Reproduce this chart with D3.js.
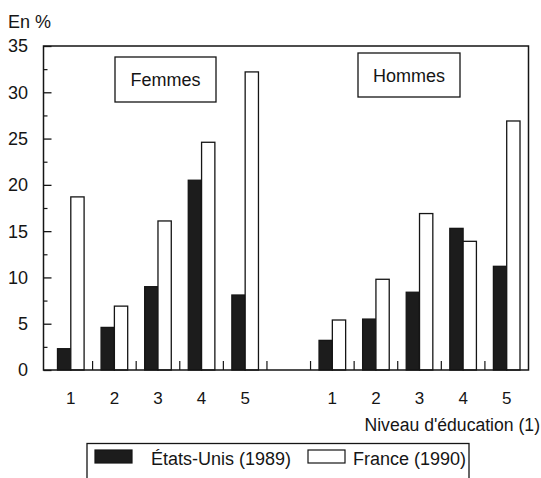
<!DOCTYPE html>
<html>
<head>
<meta charset="utf-8">
<script src="https://cdn.jsdelivr.net/npm/d3@7"></script>
<style>
  html, body { margin: 0; padding: 0; background: #fff; }
  svg { display: block; font-family: "Liberation Sans", Arial, sans-serif; }
</style>
</head>
<body>
<div id="chart"></div>
<script>
const levels = ['1', '2', '3', '4', '5'];
const groups = ['Femmes', 'Hommes'];
const series = ['États-Unis (1989)', 'France (1990)'];

const etatsUnisFemmes = [2.3, 4.6, 9.0, 20.5, 8.1];
const franceFemmes = [18.7, 6.9, 16.1, 24.6, 32.2];
const etatsUnisHommes = [3.2, 5.5, 8.4, 15.3, 11.2];
const franceHommes = [5.4, 9.8, 16.9, 13.9, 26.9];

const yTicks = [0, 5, 10, 15, 20, 25, 30, 35];
const yMinorTicks = [2.5, 7.5, 12.5, 17.5, 22.5, 27.5, 32.5];

const width = 541;
const height = 478;
const ink = '#151515';

const svg = d3.select('#chart').append('svg')
  .attr('width', width)
  .attr('height', height);

// slots: 5 for Femmes, one empty, 5 for Hommes
const slots = [...levels.map(l => 'F' + l), 'gap', ...levels.map(l => 'H' + l)];

const x = d3.scaleBand()
  .domain(slots)
  .range([49, 528.5])
  .padding(0);

const pairWidth = 26.6;
const xs = d3.scaleBand()
  .domain(series)
  .range([(x.bandwidth() - pairWidth) / 2, (x.bandwidth() + pairWidth) / 2])
  .padding(0);

const y = d3.scaleLinear()
  .domain([0, 35])
  .range([370, 46]);

const color = d3.scaleOrdinal()
  .domain(series)
  .range(['#1c1c1c', '#ffffff']);

const rows = [];
levels.forEach((l, i) => {
  rows.push({ slot: 'F' + l, s: series[0], v: etatsUnisFemmes[i] });
  rows.push({ slot: 'F' + l, s: series[1], v: franceFemmes[i] });
  rows.push({ slot: 'H' + l, s: series[0], v: etatsUnisHommes[i] });
  rows.push({ slot: 'H' + l, s: series[1], v: franceHommes[i] });
});

// bars
svg.append('g').selectAll('rect')
  .data(rows)
  .enter()
  .append('rect')
  .attr('x', d => x(d.slot) + xs(d.s))
  .attr('y', d => y(d.v))
  .attr('width', xs.bandwidth())
  .attr('height', d => y(0) - y(d.v))
  .attr('fill', d => color(d.s))
  .attr('stroke', ink)
  .attr('stroke-width', 1.3);

// frame
const left = 43.5, right = x.range()[1];
svg.append('path')
  .attr('d', `M${left},${y(0)}V${y(35)}H${right}V${y(0)}Z`)
  .attr('fill', 'none')
  .attr('stroke', ink)
  .attr('stroke-width', 1.5);

// y axis, ticks point inward
const yAxis = svg.append('g')
  .attr('transform', `translate(${left},0)`)
  .call(d3.axisRight(y).tickValues(yTicks).tickSize(8).tickFormat(''));
yAxis.select('.domain').remove();
yAxis.selectAll('line').attr('stroke', ink).attr('stroke-width', 1.3);

const yMinor = svg.append('g')
  .attr('transform', `translate(${left},0)`)
  .call(d3.axisRight(y).tickValues(yMinorTicks).tickSize(4).tickFormat(''));
yMinor.select('.domain').remove();
yMinor.selectAll('line').attr('stroke', ink).attr('stroke-width', 1.2);

svg.append('g').selectAll('text')
  .data(yTicks)
  .enter()
  .append('text')
  .attr('x', 28)
  .attr('y', d => y(d))
  .attr('dy', '0.36em')
  .attr('text-anchor', 'end')
  .attr('font-size', 18)
  .attr('fill', ink)
  .text(d => d);

// small upward ticks between slots
svg.append('g').selectAll('line')
  .data(slots.slice(1))
  .enter()
  .append('line')
  .attr('x1', d => x(d))
  .attr('x2', d => x(d))
  .attr('y1', y(0))
  .attr('y2', y(0) - 9)
  .attr('stroke', ink)
  .attr('stroke-width', 1.2);

// x labels
svg.append('g').selectAll('text')
  .data(slots.filter(s => s !== 'gap'))
  .enter()
  .append('text')
  .attr('x', d => x(d) + x.bandwidth() / 2)
  .attr('y', 404)
  .attr('text-anchor', 'middle')
  .attr('font-size', 17)
  .attr('fill', ink)
  .text(d => d.slice(1));

// group boxes
const boxes = [
  { label: groups[0], x: 115, y: 57, w: 101, h: 45, ty: 85.7 },
  { label: groups[1], x: 358, y: 53, w: 102, h: 44, ty: 81.5 }
];
boxes.forEach(b => {
  svg.append('rect')
    .attr('x', b.x).attr('y', b.y)
    .attr('width', b.w).attr('height', b.h)
    .attr('fill', '#fff')
    .attr('stroke', ink)
    .attr('stroke-width', 1.3);
  svg.append('text')
    .attr('x', b.x + b.w / 2)
    .attr('y', b.ty)
    .attr('text-anchor', 'middle')
    .attr('font-size', 18)
    .attr('fill', ink)
    .text(b.label);
});

svg.append('text')
  .attr('x', 8).attr('y', 28)
  .attr('font-size', 18)
  .attr('fill', ink)
  .text('En %');

svg.append('text')
  .attr('x', 540).attr('y', 431)
  .attr('text-anchor', 'end')
  .attr('font-size', 17.6)
  .attr('fill', ink)
  .text("Niveau d'éducation (1)");

// legend
const legend = svg.append('g');
legend.append('rect')
  .attr('x', 87).attr('y', 443.5)
  .attr('width', 382).attr('height', 45)
  .attr('fill', 'none')
  .attr('stroke', ink)
  .attr('stroke-width', 1.3);

const legendItems = [
  { s: series[0], sx: 95, tx: 151 },
  { s: series[1], sx: 308, tx: 353 }
];
legendItems.forEach(it => {
  legend.append('rect')
    .attr('x', it.sx).attr('y', 450)
    .attr('width', 37).attr('height', 13)
    .attr('fill', color(it.s))
    .attr('stroke', ink)
    .attr('stroke-width', 1.2);
  legend.append('text')
    .attr('x', it.tx).attr('y', 465)
    .attr('font-size', 18)
    .attr('fill', ink)
    .text(it.s);
});
</script>
</body>
</html>
